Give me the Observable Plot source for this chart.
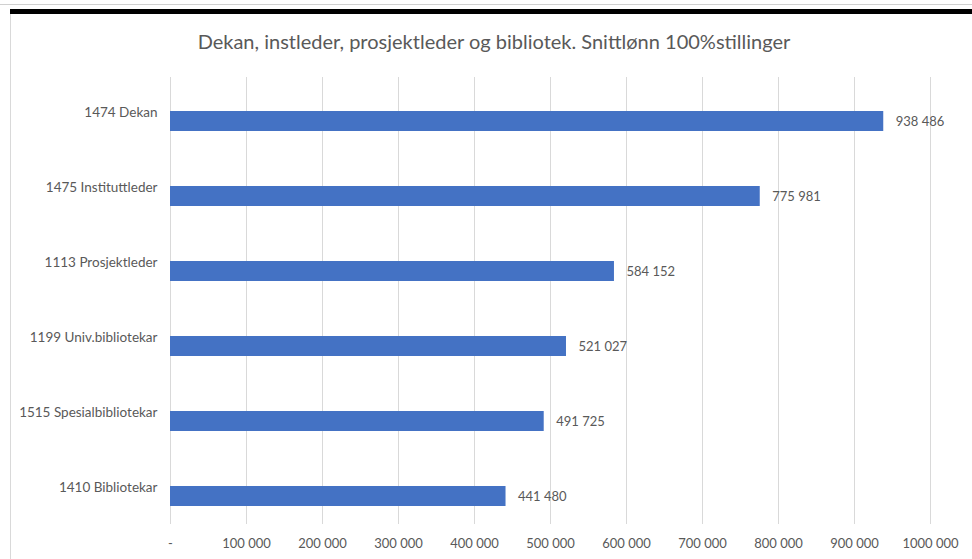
<!DOCTYPE html>
<html>
<head>
<meta charset="utf-8">
<script src="https://cdn.jsdelivr.net/npm/d3@7"></script>
<script src="https://cdn.jsdelivr.net/npm/@observablehq/plot@0.6"></script>
<style>
  html, body { margin: 0; padding: 0; background: #fff; }
  #page { position: relative; width: 972px; height: 559px; overflow: hidden; font-family: Lato, "Open Sans", sans-serif; }
  #topline { position: absolute; left: 0; top: 4px; width: 972px; height: 1px; background: #d0d0d0; }
  #blackbar { position: absolute; left: 10px; top: 9px; width: 962px; height: 5px; background: #000; }
  #leftline { position: absolute; left: 10px; top: 14px; width: 1px; height: 545px; background: #d9d9d9; }
  #title { position: absolute; left: 0; top: 29px; width: 988px; text-align: center; font-size: 20px; color: #595959; }
  #chart { position: absolute; left: 0; top: 77px; }
</style>
</head>
<body>
<div id="page">
  <div id="topline"></div>
  <div id="blackbar"></div>
  <div id="leftline"></div>
  <div id="title">Dekan, instleder, prosjektleder og bibliotek. Snittlønn 100%stillinger</div>
  <div id="chart"></div>
</div>
<script>
const categories = ["1474 Dekan", "1475 Instituttleder", "1113 Prosjektleder", "1199 Univ.bibliotekar", "1515 Spesialbibliotekar", "1410 Bibliotekar"];
const values = [938486, 775981, 584152, 521027, 491725, 441480];
const tickValues = [0, 100000, 200000, 300000, 400000, 500000, 600000, 700000, 800000, 900000, 1000000];
const tickLabels = ["-", "100 000", "200 000", "300 000", "400 000", "500 000", "600 000", "700 000", "800 000", "900 000", "1000 000"];

const data = categories.map((c, i) => ({category: c, value: values[i]}));
const fmt = v => d3.format(",")(v).replace(/,/g, " ");
const textColor = "#595959";

const chart = Plot.plot({
  width: 972,
  height: 482,
  marginTop: 0,
  marginBottom: 35,
  marginLeft: 170,
  marginRight: 42,
  style: {fontFamily: "Lato, 'Open Sans', sans-serif", fontSize: "13px", color: textColor, background: "transparent"},
  x: {domain: [0, 1000000], label: null},
  y: {domain: categories, paddingInner: 0.74, paddingOuter: 0.346, align: 0.65, label: null},
  marks: [
    Plot.gridX(tickValues, {stroke: "#d9d9d9", strokeOpacity: 1, strokeWidth: 1}),
    Plot.axisX({ticks: tickValues, tickSize: 0, tickPadding: 14, label: null, tickFormat: (d) => tickLabels[tickValues.indexOf(d)], fill: textColor, fontSize: 13}),
    Plot.axisY({tickSize: 0, tickPadding: 13, dy: -9, label: null, fill: textColor, fontSize: 13.5}),
    Plot.barX(data, {x: "value", y: "category", fill: "#4472C4"}),
    Plot.text(data, {x: "value", y: "category", text: d => fmt(d.value), dx: 12, textAnchor: "start", fill: textColor, fontSize: 13})
  ]
});
document.getElementById("chart").appendChild(chart);
</script>
</body>
</html>
